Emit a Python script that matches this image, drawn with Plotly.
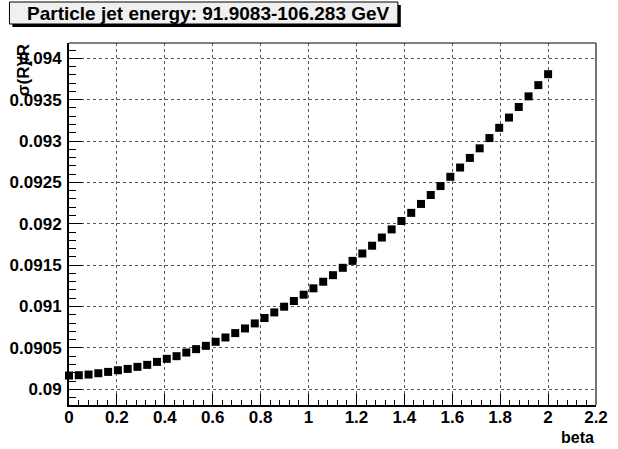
import plotly.graph_objects as go

# ---- data ----
beta = [0.0, 0.0408, 0.0816, 0.1224, 0.1633, 0.2041, 0.2449, 0.2857, 0.3265, 0.3673,
        0.4082, 0.4490, 0.4898, 0.5306, 0.5714, 0.6122, 0.6531, 0.6939, 0.7347, 0.7755,
        0.8163, 0.8571, 0.8980, 0.9388, 0.9796, 1.0204, 1.0612, 1.1020, 1.1429, 1.1837,
        1.2245, 1.2653, 1.3061, 1.3469, 1.3878, 1.4286, 1.4694, 1.5102, 1.5510, 1.5918,
        1.6327, 1.6735, 1.7143, 1.7551, 1.7959, 1.8367, 1.8776, 1.9184, 1.9592, 2.0]

sigma_over_r = [0.090166, 0.090170, 0.090178, 0.090194, 0.090210, 0.090230, 0.090246,
                0.090271, 0.090295, 0.090331, 0.090368, 0.090400, 0.090444, 0.090485,
                0.090525, 0.090574, 0.090626, 0.090679, 0.090735, 0.090796, 0.090861,
                0.090929, 0.090998, 0.091067, 0.091143, 0.091220, 0.091300, 0.091379,
                0.091468, 0.091552, 0.091641, 0.091735, 0.091834, 0.091932, 0.092034,
                0.092132, 0.092240, 0.092348, 0.092456, 0.092568, 0.092680, 0.092796,
                0.092912, 0.093036, 0.093160, 0.093284, 0.093412, 0.093540, 0.093676,
                0.093808]

x_tick_vals = [0, 0.2, 0.4, 0.6, 0.8, 1.0, 1.2, 1.4, 1.6, 1.8, 2.0, 2.2]
x_tick_text = ["0", "0.2", "0.4", "0.6", "0.8", "1", "1.2", "1.4", "1.6", "1.8", "2", "2.2"]
y_tick_vals = [0.09, 0.0905, 0.091, 0.0915, 0.092, 0.0925, 0.093, 0.0935, 0.094]
y_tick_text = ["0.09", "0.0905", "0.091", "0.0915", "0.092", "0.0925", "0.093", "0.0935", "0.094"]

title_text = "Particle jet energy: 91.9083-106.283 GeV"
x_title = "beta"
y_title = "σ(R)/R"

# ---- layout geometry ----
W, H = 618, 449
L, R, T, B = 68, 10, 43, 44
PW, PH = W - L - R, H - T - B


def px_x(p):
    return (p - L) / PW


def px_y(p):
    return (H - B - p) / PH


FONT = "Liberation Sans, Arial, Helvetica, sans-serif"

fig = go.Figure()
fig.add_trace(go.Scatter(
    x=beta, y=sigma_over_r, mode="markers",
    marker=dict(symbol="square", size=8, color="black", line=dict(width=0)),
    showlegend=False, cliponaxis=False,
))

axis_common = dict(
    showline=True, linecolor="black", linewidth=2, mirror=False,
    ticks="inside", tickcolor="black", tickwidth=1,
    showgrid=True, gridcolor="#555555", griddash="dot", gridwidth=1,
    zeroline=False, ticklabeloverflow="allow",
    tickfont=dict(family=FONT, size=17, color="black", weight="bold"),
)

fig.update_xaxes(
    **axis_common,
    range=[0, 2.2], tickmode="array", tickvals=x_tick_vals, ticktext=x_tick_text,
    ticklen=11, ticklabelstandoff=-4,
    minor=dict(ticks="inside", ticklen=5, dtick=0.04, tick0=0, tickcolor="black", showgrid=False),
)
fig.update_yaxes(
    **axis_common,
    range=[0.08981, 0.094185], tickmode="array", tickvals=y_tick_vals, ticktext=y_tick_text,
    ticklen=13, ticklabelstandoff=2,
    minor=dict(ticks="inside", ticklen=7, dtick=0.0001, tick0=0.09, tickcolor="black", showgrid=False),
)

shapes = [
    # top and right frame
    dict(type="line", xref="paper", yref="paper", x0=0, x1=1, y0=1, y1=1,
         line=dict(color="black", width=1)),
    dict(type="line", xref="paper", yref="paper", x0=1, x1=1, y0=0, y1=1,
         line=dict(color="#444444", width=1.5)),
    # title box shadow and box
    dict(type="rect", xref="paper", yref="paper",
         x0=px_x(10), x1=px_x(408), y0=px_y(27), y1=px_y(5),
         fillcolor="black", line=dict(width=0)),
    dict(type="rect", xref="paper", yref="paper",
         x0=px_x(7), x1=px_x(405), y0=px_y(24), y1=px_y(2),
         fillcolor="#f0f0f0", line=dict(color="black", width=1)),
]

annotations = [
    dict(text=title_text, xref="paper", yref="paper", x=px_x(23), y=px_y(13.5),
         xanchor="left", yanchor="middle", showarrow=False,
         font=dict(family=FONT, size=19, color="black", weight="bold")),
    dict(text=x_title, xref="paper", yref="paper", x=px_x(607), y=px_y(437),
         xanchor="right", yanchor="middle", showarrow=False, borderpad=0,
         font=dict(family=FONT, size=16, color="black", weight="bold")),
    dict(text=y_title, xref="paper", yref="paper", x=px_x(21), y=px_y(42),
         xanchor="center", yanchor="top", textangle=-90, showarrow=False,
         font=dict(family=FONT, size=17, color="black", weight="bold")),
]

fig.update_layout(
    width=W, height=H,
    margin=dict(l=L, r=R, t=T, b=B, pad=0),
    paper_bgcolor="white", plot_bgcolor="white",
    shapes=shapes, annotations=annotations,
    font=dict(family=FONT, color="black"),
)

fig.write_html(
    "out.html",
    config={"displayModeBar": False},
    post_script="document.body.style.margin='0';document.body.style.padding='0';",
)
